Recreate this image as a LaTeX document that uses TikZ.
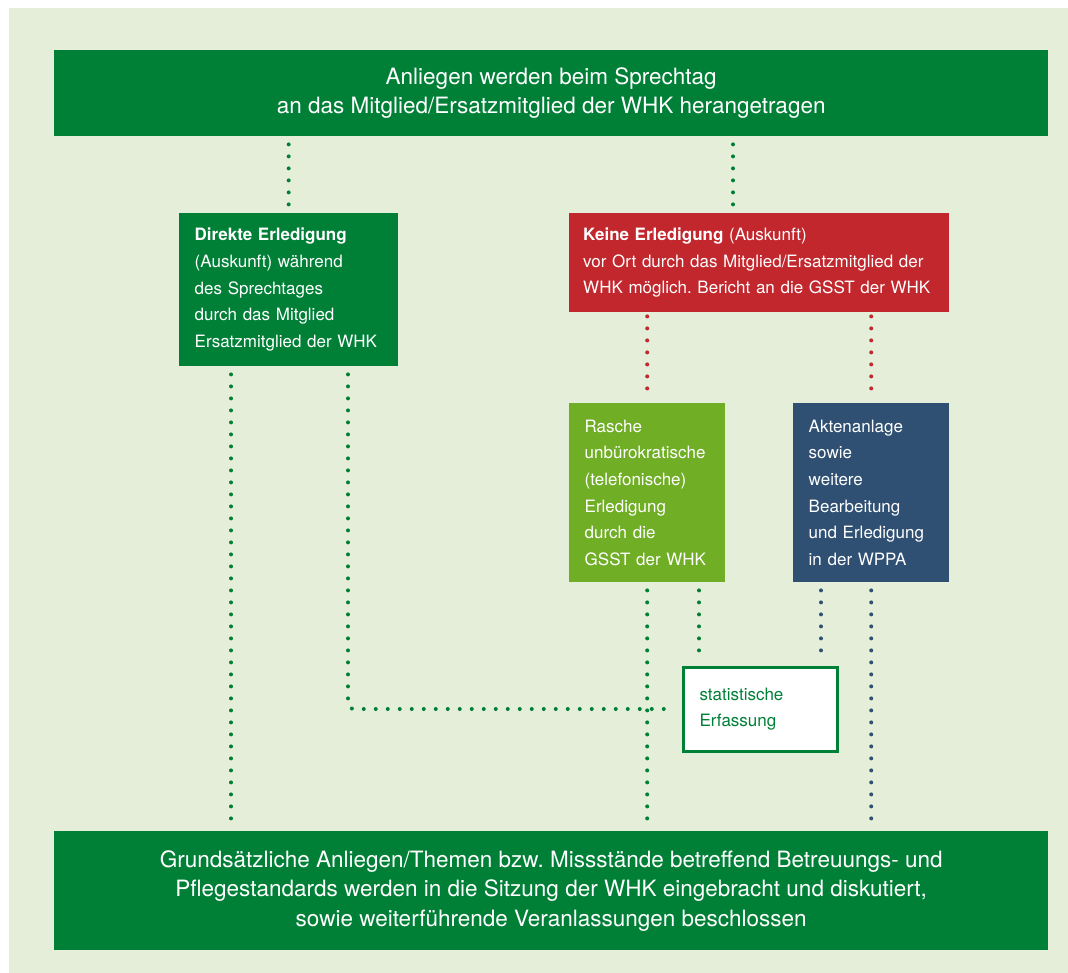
\documentclass[tikz,border=0pt]{standalone}
\usepackage{fontspec}
\setmainfont{TeX Gyre Heros}
\usepackage{tikz}

\definecolor{whkgreen}{RGB}{0,128,55}
\definecolor{whkred}{RGB}{193,39,45}
\definecolor{whklight}{RGB}{111,174,37}
\definecolor{whkblue}{RGB}{47,80,114}
\definecolor{whkback}{RGB}{229,238,216}

\begin{document}
\frenchspacing
\begin{tikzpicture}[x=1pt, y=-1pt,
    box/.style={anchor=north west, inner ysep=0pt, inner xsep=15.5pt, align=left,
        text=white, font=\fontsize{17pt}{26.6pt}\selectfont},
    wide/.style={anchor=north west, inner sep=0pt, align=center, text=white, fill=whkgreen,
        minimum width=994pt, font=\fontsize{22.5pt}{29.5pt}\selectfont},
    dotline/.style={line width=4pt, line cap=round, dash pattern=on 0pt off 12pt,
        shorten <=8pt, shorten >=8pt}]
    % Background
    \useasboundingbox (0,0) rectangle (1068,973);
    \fill[whkback] (9,8) rectangle (1068,973);

    % Boxes
    \node[wide, minimum height=86pt] (top) at (54,50)
        {Anliegen werden beim Sprechtag\\an das Mitglied/Ersatzmitglied der WHK herangetragen};
    \node[box, fill=whkgreen, text width=188pt, minimum height=153pt] (direkt) at (179,213)
        {\textbf{Direkte Erledigung}\\(Auskunft) während\\des Sprechtages\\durch das Mitglied\\Ersatzmitglied der WHK};
    \node[box, fill=whkred, inner xsep=14pt, text width=352pt, minimum height=99pt] (rot) at (569,213)
        {\textbf{Keine Erledigung} (Auskunft)\\vor Ort durch das Mitglied/Ersatzmitglied der\\WHK möglich. Bericht an die GSST der WHK};
    \node[box, fill=whklight, text width=125pt, minimum height=179pt] (hell) at (569,403)
        {Rasche\\unbürokratische\\(telefonische)\\Erledigung\\durch die\\GSST der WHK};
    \node[box, fill=whkblue, text width=125pt, minimum height=179pt] (blau) at (793,403)
        {Aktenanlage\\sowie\\weitere\\Bearbeitung\\und Erledigung\\in der WPPA};
    \node[box, fill=white, draw=whkgreen, line width=3pt, text=whkgreen, inner xsep=16.5pt,
        text width=121pt, minimum height=84pt] (stat) at (681.5,665.5)
        {statistische\\Erfassung};
    \node[wide, minimum height=119pt] (unten) at (54,831)
        {Grundsätzliche Anliegen/Themen bzw. Missstände betreffend Betreuungs- und\\
         Pflegestandards werden in die Sitzung der WHK eingebracht und diskutiert,\\
         sowie weiterführende Veranlassungen beschlossen};

    % Connectors
    \coordinate (c1) at (733,0);
    \coordinate (c2) at (231,0);
    \coordinate (c3) at (348,0);
    \coordinate (c4) at (699,0);
    \coordinate (c5) at (821,0);
    \draw[dotline, whkgreen] (top.south -| direkt.north) -- (direkt.north);
    \draw[dotline, whkgreen] (top.south -| c1) -- (rot.north -| c1);
    \draw[dotline, whkred, shorten <=4pt, shorten >=4pt] (rot.south -| hell.north) -- (hell.north);
    \draw[dotline, whkred, shorten <=4pt, shorten >=4pt] (rot.south -| blau.north) -- (blau.north);
    \draw[dotline, whkgreen] (direkt.south -| c2) -- (unten.north -| c2);
    \draw[dotline, whkgreen, rounded corners=5pt] (direkt.south -| c3) |- (stat.west);
    \draw[dotline, whkgreen] (hell.south) -- (unten.north -| hell.south);
    \draw[dotline, whkgreen] (hell.south -| c4) -- (stat.north -| c4);
    \draw[dotline, whkblue] (blau.south -| c5) -- (stat.north -| c5);
    \draw[dotline, whkblue] (blau.south) -- (unten.north -| blau.south);
\end{tikzpicture}
\end{document}
